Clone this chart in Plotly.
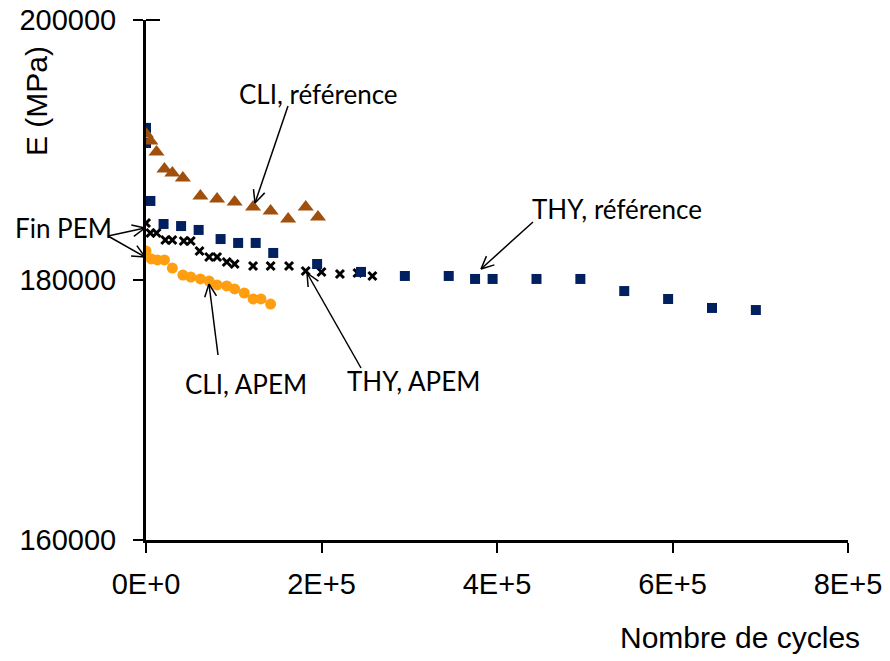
import plotly.graph_objects as go
import math

# ---- data ----
thy_ref_x = [0, 0, 5000, 20000, 40000, 60000, 85000, 105000, 125000, 145000, 195000,
             245000, 295000, 345000, 375000, 395000, 445000, 495000, 545000, 595000, 645000, 695000]
thy_ref_y = [191700, 190540, 186080, 184310, 184150, 183850, 183150, 182850, 182850, 182080, 181230,
             180620, 180310, 180310, 180080, 180080, 180080, 180080, 179150, 178540, 177850, 177690]

cli_ref_x = [0, 5000, 12000, 21000, 30000, 42000, 62000, 81000, 101000, 122000, 142000, 162000, 182000, 196000]
cli_ref_y = [191230, 190690, 189850, 188540, 188230, 187850, 186460, 186230, 186000, 185620, 185310, 184690, 185620, 184850]

thy_apem_x = [0, 5000, 12000, 22000, 30000, 43000, 51000, 61000, 72000, 81000, 92000, 101000,
              122000, 142000, 163000, 182000, 200000, 221000, 241000, 258000]
thy_apem_y = [184380, 183620, 183620, 183080, 183080, 183000, 183000, 182230, 181770, 181770, 181380, 181230,
              181080, 181080, 181080, 180690, 180620, 180460, 180540, 180310]

cli_apem_x = [0, 6000, 13000, 21000, 30000, 42000, 51000, 62000, 72000, 81000, 92000, 101000,
              112000, 122000, 131000, 142000]
cli_apem_y = [182230, 181620, 181540, 181540, 180920, 180380, 180230, 180080, 179920, 179620, 179540, 179310,
              179000, 178540, 178540, 178150]

x_ticks = [0, 200000, 400000, 600000, 800000]
x_tick_labels = ["0E+0", "2E+5", "4E+5", "6E+5", "8E+5"]
y_ticks = [160000, 180000, 200000]
y_tick_labels = ["160000", "180000", "200000"]

W, H = 890, 661
L, R, T, B = 146, 848, 20, 540

fig = go.Figure()
fig.add_trace(go.Scatter(x=cli_apem_x, y=cli_apem_y, mode="lines+markers",
                         line=dict(color="#333333", width=1, dash="dot"),
                         marker=dict(symbol="circle", size=11, color="#FF9E10"),
                         name="CLI, APEM", showlegend=False))
fig.add_trace(go.Scatter(x=thy_apem_x, y=thy_apem_y, mode="markers",
                         marker=dict(symbol="x-thin", size=8, color="black",
                                     line=dict(width=3, color="black")),
                         name="THY, APEM", showlegend=False))
fig.add_trace(go.Scatter(x=thy_ref_x, y=thy_ref_y, mode="markers",
                         marker=dict(symbol="square", size=10, color="#002060"),
                         name="THY, référence", showlegend=False))
fig.add_trace(go.Scatter(x=cli_ref_x, y=cli_ref_y, mode="markers",
                         marker=dict(symbol="triangle-up", size=14, color="#A0500C"),
                         name="CLI, référence", showlegend=False))

def px2paper(px, py):
    return (px - L) / (R - L), (B - py) / (B - T)

shapes = []
def arrow(x0, y0, x1, y1, barb=14, ang=25):
    a = math.atan2(y0 - y1, x0 - x1)
    pts = [(x0, y0, x1, y1)]
    for s in (-1, 1):
        b = a + s * math.radians(ang)
        pts.append((x1, y1, x1 + barb * math.cos(b), y1 + barb * math.sin(b)))
    for (ax0, ay0, ax1, ay1) in pts:
        p0 = px2paper(ax0, ay0)
        p1 = px2paper(ax1, ay1)
        shapes.append(dict(type="line", xref="paper", yref="paper",
                           x0=p0[0], y0=p0[1], x1=p1[0], y1=p1[1],
                           line=dict(color="black", width=1.5)))

arrow(288, 106, 255, 203)
arrow(533, 222, 481, 269)
arrow(361, 368, 307, 273)
arrow(218, 355, 209, 284)
arrow(108, 236, 145, 228)
arrow(108, 236, 145, 257)

shapes.append(dict(type="line", xref="paper", yref="paper", x0=0, y0=1, x1=14/702, y1=1,
                   line=dict(color="black", width=2)))

annots = []
def label(text, cx, cy, size=26):
    xp, yp = px2paper(cx, cy)
    annots.append(dict(text=text, x=xp, y=yp, xref="paper", yref="paper", showarrow=False,
                       xanchor="center", yanchor="middle",
                       font=dict(family="Lato, Carlito, sans-serif", size=size, color="black")))

label("CLI, référence", 318, 94)
label("THY, référence", 617, 209)
label("THY, APEM", 413, 381)
label("CLI, APEM", 246, 384)
label("Fin PEM", 63, 228)

xp, yp = px2paper(740, 637)
annots.append(dict(text="Nombre de cycles", x=xp, y=yp, xref="paper", yref="paper", showarrow=False,
                   xanchor="center", yanchor="middle",
                   font=dict(family="Liberation Sans, Arial", size=30, color="black")))
xp, yp = px2paper(36, 101)
annots.append(dict(text="E (MPa)", x=xp, y=yp, xref="paper", yref="paper", showarrow=False,
                   xanchor="center", yanchor="middle", textangle=-90,
                   font=dict(family="Liberation Sans, Arial", size=30, color="black")))

fig.update_layout(
    width=W, height=H,
    margin=dict(l=L, r=W - R, t=T, b=H - B, autoexpand=False),
    paper_bgcolor="white", plot_bgcolor="white",
    shapes=shapes, annotations=annots,
    xaxis=dict(range=[0, 800000], tickvals=x_ticks, ticktext=x_tick_labels, automargin=False,
               showgrid=False, zeroline=False, showline=True, linecolor="black", linewidth=3,
               ticks="outside", ticklen=10, tickwidth=2, tickcolor="black",
               ticklabelstandoff=6,
               tickfont=dict(family="Liberation Sans, Arial", size=29, color="black")),
    yaxis=dict(range=[160000, 200000], tickvals=y_ticks, ticktext=y_tick_labels, automargin=False,
               showgrid=False, zeroline=False, showline=True, linecolor="black", linewidth=3,
               ticks="outside", ticklen=10, tickwidth=2, tickcolor="black",
               ticklabelstandoff=11,
               tickfont=dict(family="Liberation Sans, Arial", size=29, color="black")),
)
fig.write_html("out.html", config={"displayModeBar": False})

with open("out.html", "r", encoding="utf-8") as f:
    html = f.read()
html = html.replace("<head>", "<head><style>html,body{margin:0;padding:0;overflow:hidden;}</style>", 1)
with open("out.html", "w", encoding="utf-8") as f:
    f.write(html)
